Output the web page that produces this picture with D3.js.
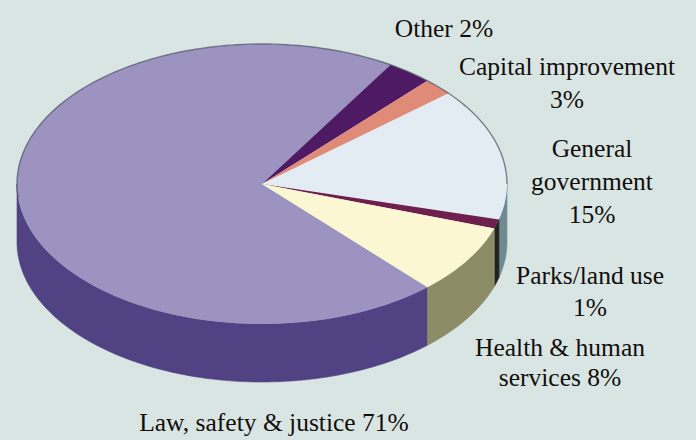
<!DOCTYPE html>
<html>
<head>
<meta charset="utf-8">
<script src="https://cdn.jsdelivr.net/npm/d3@7"></script>
<style>
html,body{margin:0;padding:0;background:#d9e5e3;overflow:hidden}
text{font-family:"Liberation Serif",serif;font-size:25.5px;fill:#110e0c}
</style>
</head>
<body>
<script>
// slice sizes as drawn in the picture, clockwise from the law slice
const categories=["Law, safety & justice","Other","Capital improvement","General government","Parks/land use","Health & human services"];
const shares=[70.6,3.0,2.0,15.3,1.05,8.05];
const topColors=["#9d93c0","#4f1a64","#e08a78","#e3ecf2","#6e1f4e","#fbf7d2"];
const sideColors=["#514283","#3a1748","#a8604f","#6f8a90","#23231d","#8c8d66"];

// printed labels, these are the rounded percentages
const labelLines=[
 ["Law, safety & justice 71%"],
 ["Other 2%"],
 ["Capital improvement","3%"],
 ["General","government","15%"],
 ["Parks/land use","1%"],
 ["Health & human","services 8%"]
];
const labelX=[274,444,567,592,590,560];
const labelY=[431,37,75,157,284,356];
const labelGap=[0,0,33,33,32,30];

const width=696,height=440;
const cx=262,cy=184,rx=245,ry=140,depth=58;

const svg=d3.select("body").append("svg")
 .attr("width",width).attr("height",height)
 .style("display","block");

// law slice ends at the lower right, so start the pie there
const startAngle=(90+47.5)*Math.PI/180;
const pie=d3.pie().sort(null).value(d=>d)
 .startAngle(startAngle).endAngle(startAngle+2*Math.PI);
const slices=pie(shares);

const px=a=>cx+rx*Math.sin(a);
const py=a=>cy-ry*Math.cos(a);
const sweep=(from,to)=>{
 const n=Math.max(2,Math.ceil((to-from)*40));
 return d3.range(n+1).map(i=>from+(to-from)*i/n);
};

// side wall: only the front half of the ellipse shows
function wallPath(a0,a1){
 const from=Math.max(a0,Math.PI/2), to=Math.min(a1,3*Math.PI/2);
 if(from>=to) return null;
 const angles=sweep(from,to);
 const pts=angles.map(a=>[px(a),py(a)]).concat(angles.slice().reverse().map(a=>[px(a),py(a)+depth]));
 return d3.line()(pts)+"Z";
}

// slices run past a full turn, so try each one a turn back as well
const walls=[];
slices.forEach((s,i)=>{
 [0,2*Math.PI].forEach(k=>{
  const p=wallPath(s.startAngle-k,s.endAngle-k);
  if(p) walls.push({path:p,i});
 });
});

svg.append("g").selectAll("path").data(walls).join("path")
 .attr("d",d=>d.path)
 .attr("fill",d=>sideColors[d.i])
 .attr("stroke",d=>sideColors[d.i])
 .attr("stroke-width",0.6);

const arc=d3.arc().innerRadius(0).outerRadius(rx);
svg.append("g")
 .attr("transform",`translate(${cx},${cy}) scale(1,${ry/rx})`)
 .selectAll("path").data(slices).join("path")
 .attr("d",arc)
 .attr("fill",(d,i)=>topColors[i]);

// dark rim round the back of the top, as in the print
const rim=sweep(-Math.PI/2-0.1,Math.PI/2).map(a=>[px(a),py(a)]);
svg.append("path")
 .attr("d",d3.line()(rim))
 .attr("fill","none").attr("stroke","#4f5166").attr("stroke-width",1.4).attr("opacity",0.7);

const labels=svg.append("g").selectAll("text").data(labelLines).join("text")
 .attr("text-anchor","middle")
 .attr("x",(d,i)=>labelX[i])
 .attr("y",(d,i)=>labelY[i])
 .each(function(d,i){
  d3.select(this).selectAll("tspan").data(d).join("tspan")
   .attr("x",labelX[i])
   .attr("dy",(t,j)=>j?labelGap[i]:0)
   .text(t=>t);
 });
</script>
</body>
</html>
